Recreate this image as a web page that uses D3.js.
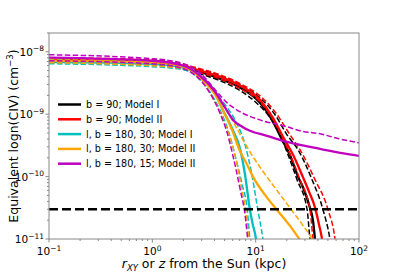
<!DOCTYPE html>
<html><head><meta charset="utf-8">
<script src="https://cdn.jsdelivr.net/npm/d3@7"></script>
<style>body{margin:0;background:#fff;} svg{display:block;} text{font-family:"DejaVu Sans",sans-serif;fill:#000;}</style>
</head><body>
<svg id="c" width="399" height="274"></svg>
<script>
// ---- data (r in kpc, equivalent n(CIV) in cm^-3) ----
const xTicks = [0.1, 1, 10, 100];
const xTickExp = ["−1", "0", "1", "2"];
const yTicks = [1e-11, 1e-10, 1e-9, 1e-8];
const yTickExp = ["−11", "−10", "−9", "−8"];
const threshold = 3e-11;
const legendLabels = ["b = 90; Model I", "b = 90; Model II", "l, b = 180, 30; Model I", "l, b = 180, 30; Model II", "l, b = 180, 15; Model II"];

const b90I = [[0.1,7.2e-9],[1,6.7e-9],[2,5.8e-9],[2.9,4.8e-9],[4.5,3.7e-9],[7.1,2.65e-9],[11,1.52e-9],[14.4,8.1e-10],[17.6,4.2e-10],[21.5,2.2e-10],[25.7,1.0e-10],[29.4,6.1e-11],[32.9,3.5e-11],[36,1.9e-11],[37.6,9.6e-12],[38.5,7e-12]];
const b90I_lo = [[0.1,6.7e-9],[1,6.2e-9],[2.9,4.45e-9],[4.5,3.44e-9],[7.1,2.38e-9],[9.9,1.58e-9],[13.8,8.75e-10],[17.2,4.67e-10],[19.7,2.69e-10],[25.2,8.85e-11],[31.5,2.92e-11],[33.6,9.6e-12],[34.5,7e-12]];
const b90I_hi = [[0.1,7.75e-9],[1,7.2e-9],[2.9,5.16e-9],[4.5,4.13e-9],[7.1,2.96e-9],[11,1.83e-9],[15.4,9.8e-10],[20.1,4.67e-10],[25.7,2.69e-10],[35.2,8.85e-11],[44.9,2.92e-11],[52.5,9.6e-12],[54,7e-12]];

const b90II = [[0.1,7.5e-9],[1,6.9e-9],[2,6.0e-9],[2.9,5.0e-9],[4.5,4.0e-9],[7.1,2.86e-9],[11,1.7e-9],[14.7,8.75e-10],[18.4,4.34e-10],[23,2.23e-10],[28.1,1.06e-10],[32.9,5.7e-11],[37.6,3.15e-11],[41.1,1.68e-11],[44,9.6e-12],[45,7e-12]];
const b90II_lo = [[0.1,6.9e-9],[1,6.4e-9],[2.9,4.6e-9],[4.5,3.7e-9],[7.1,2.56e-9],[11,1.58e-9],[14.4,8.75e-10],[18,4.34e-10],[20.6,2.69e-10],[26.9,8.85e-11],[33.6,2.92e-11],[36,9.6e-12],[37,7e-12]];
const b90II_hi = [[0.1,8.0e-9],[1,7.46e-9],[2.9,5.36e-9],[4.5,4.29e-9],[7.1,3.08e-9],[11,1.97e-9],[15.4,1.09e-9],[21.5,4.67e-10],[26.9,2.69e-10],[37.6,8.85e-11],[50.2,2.92e-11],[58.7,9.6e-12],[60,7e-12]];

const l180b30I = [[0.1,6.9e-9],[1,6.4e-9],[2,5.56e-9],[2.9,3.98e-9],[3.9,2.47e-9],[4.8,1.18e-9],[6.0,5.6e-10],[7.1,2.69e-10],[7.9,1.06e-10],[8.8,2.92e-11],[9.4,1.68e-11],[10.1,9.6e-12],[10.3,7e-12]];
const l180b30I_lo = [[0.1,6.44e-9],[1,5.77e-9],[2,5.16e-9],[2.9,3.56e-9],[3.6,2.29e-9],[4.5,1.18e-9],[5.4,5.6e-10],[6.3,2.23e-10],[7.4,7.4e-11],[8.3,2.92e-11],[8.8,9.6e-12],[9.0,7e-12]];
const l180b30I_hi = [[0.1,7.46e-9],[1,6.93e-9],[2,5.98e-9],[2.9,4.29e-9],[4.05,2.29e-9],[5.06,1.42e-9],[6.3,8.1e-10],[7.9,3.23e-10],[9.2,1.06e-10],[10.5,2.92e-11],[11.8,9.6e-12],[12.1,7e-12]];

const l180b30II = [[0.1,7.2e-9],[1,6.68e-9],[2,5.77e-9],[2.9,3.84e-9],[4.05,2.05e-9],[5.06,9.8e-10],[5.9,5.6e-10],[7.1,2.49e-10],[8.3,1.54e-10],[9.4,1.0e-10],[12.3,5.1e-11],[16.1,2.92e-11],[21.5,1.62e-11],[26.9,9.6e-12],[29,8e-12]];
const l180b30II_lo = [[0.1,6.68e-9],[1,5.98e-9],[2,5.36e-9],[2.9,3.7e-9],[3.6,2.2e-9],[4.5,1.09e-9],[5.4,5.2e-10],[6.3,2.23e-10],[7.2,7.4e-11],[8.1,2.43e-11],[8.6,9.6e-12],[8.8,7e-12]];
const l180b30II_hi = [[0.1,7.75e-9],[1,7.2e-9],[2,5.98e-9],[2.9,4.13e-9],[4.05,2.29e-9],[5.06,1.27e-9],[6.3,6.76e-10],[7.55,3.88e-10],[8.8,2.49e-10],[11.5,1.28e-10],[15.4,6.6e-11],[21.5,3.15e-11],[28.1,1.73e-11],[36,9.6e-12],[38.5,8e-12]];

const l180b15II = [[0.1,8.04e-9],[1,7.19e-9],[2,5.98e-9],[2.9,4.13e-9],[4.05,2.29e-9],[5.06,1.27e-9],[6.04,8.1e-10],[7.4,6.28e-10],[8.8,5.42e-10],[12.9,4.5e-10],[18.4,3.74e-10],[26.9,3.23e-10],[42,2.79e-10],[65.6,2.4e-10],[100,2.15e-10]];
const l180b15II_lo = [[0.1,7.19e-9],[1,6.44e-9],[2,5.36e-9],[2.9,3.56e-9],[3.6,2.2e-9],[4.5,1.05e-9],[5.3,5.03e-10],[6.0,2.23e-10],[7.1,6.12e-11],[7.9,2.43e-11],[8.4,9.6e-12],[8.6,7e-12]];
const l180b15II_hi = [[0.1,8.97e-9],[1,7.75e-9],[2,6.44e-9],[2.9,4.62e-9],[4.05,2.47e-9],[5.3,1.52e-9],[7.1,1.09e-9],[11,8.1e-10],[20.1,6.28e-10],[26.9,5.42e-10],[42,4.84e-10],[65.6,4.0e-10],[100,3.48e-10]];

// ---- layout ----
const W = 399, H = 274;
const L = 49, R = 359, T = 33, B = 239;
const svg = d3.select("#c");
const x = d3.scaleLog().domain([0.1, 100]).range([L, R]);
const y = d3.scaleLog().domain([1e-11, 2e-8]).range([B, T]);

const colors = ["#000000", "#ff0000", "#00bfbf", "#ffa500", "#bf00bf"];
const groups = [
  [b90I, b90I_lo, b90I_hi],
  [b90II, b90II_lo, b90II_hi],
  [l180b30I, l180b30I_lo, l180b30I_hi],
  [l180b30II, l180b30II_lo, l180b30II_hi],
  [l180b15II, l180b15II_lo, l180b15II_hi]
];

svg.append("defs").append("clipPath").attr("id", "clip")
  .append("rect").attr("x", L).attr("y", T).attr("width", R - L).attr("height", B - T);

const plot = svg.append("g").attr("clip-path", "url(#clip)");
const line = d3.line().x(d => x(d[0])).y(d => y(d[1])).curve(d3.curveMonotoneX);

groups.forEach((g, i) => {
  plot.append("path").datum(g[0]).attr("d", line)
    .attr("fill", "none").attr("stroke", colors[i]).attr("stroke-width", 2.3);
  [g[1], g[2]].forEach(s => {
    plot.append("path").datum(s).attr("d", line)
      .attr("fill", "none").attr("stroke", colors[i]).attr("stroke-width", 1.5)
      .attr("stroke-dasharray", "5.5,2.4");
  });
});

// threshold line
plot.append("line").attr("x1", L).attr("x2", R)
  .attr("y1", y(threshold)).attr("y2", y(threshold))
  .attr("stroke", "#000").attr("stroke-width", 2.5).attr("stroke-dasharray", "9,4");

// frame
svg.append("rect").attr("x", L).attr("y", T).attr("width", R - L).attr("height", B - T)
  .attr("fill", "none").attr("stroke", "#888").attr("stroke-width", 1);

// ticks
const axis = svg.append("g").attr("stroke", "#888");
const xMinor = [], yMinor = [];
for (let e = -1; e < 2; e++) for (let k = 2; k <= 9; k++) xMinor.push(k * Math.pow(10, e));
for (let e = -11; e < -7; e++) for (let k = 2; k <= 9; k++) { const v = k * Math.pow(10, e); if (v <= 2e-8) yMinor.push(v); }
xTicks.forEach(t => axis.append("line").attr("x1", x(t)).attr("x2", x(t)).attr("y1", B).attr("y2", B + 3.5));
xMinor.forEach(t => axis.append("line").attr("x1", x(t)).attr("x2", x(t)).attr("y1", B).attr("y2", B + 2));
yTicks.forEach(t => axis.append("line").attr("y1", y(t)).attr("y2", y(t)).attr("x1", L).attr("x2", L - 3.5));
yMinor.forEach(t => axis.append("line").attr("y1", y(t)).attr("y2", y(t)).attr("x1", L).attr("x2", L - 2));

// tick labels
xTicks.forEach((t, i) => {
  const tx = svg.append("text").attr("x", x(t)).attr("y", B + 16).attr("text-anchor", "middle").attr("font-size", 10.5);
  tx.append("tspan").text("10");
  tx.append("tspan").attr("dy", -4.5).attr("font-size", 7.5).text(xTickExp[i]);
});
yTicks.forEach((t, i) => {
  const tx = svg.append("text").attr("x", L - 5).attr("y", y(t) + 4).attr("text-anchor", "end").attr("font-size", 10.5);
  tx.append("tspan").text("10");
  tx.append("tspan").attr("dy", -4.5).attr("font-size", 7.5).text(yTickExp[i]);
});

// axis labels
const xl = svg.append("text").attr("x", (L + R) / 2).attr("y", 268).attr("text-anchor", "middle").attr("font-size", 12.5);
xl.append("tspan").attr("font-style", "italic").text("r");
xl.append("tspan").attr("font-style", "italic").attr("font-size", 8.5).attr("dy", 3).text("XY");
xl.append("tspan").attr("dy", -3).text(" or ");
xl.append("tspan").attr("font-style", "italic").text("z");
xl.append("tspan").text(" from the Sun (kpc)");

const yl = svg.append("text").attr("transform", `translate(18,${(T + B) / 2}) rotate(-90)`)
  .attr("text-anchor", "middle").attr("font-size", 12.5);
yl.append("tspan").text("Equivalent logn(CIV) (cm");
yl.append("tspan").attr("dy", -5).attr("font-size", 8.5).text("−3");
yl.append("tspan").attr("dy", 5).text(")");

// legend
const leg = svg.append("g");
legendLabels.forEach((lab, i) => {
  const yy = 104.5 + i * 14.8;
  leg.append("line").attr("x1", 58).attr("x2", 81).attr("y1", yy).attr("y2", yy)
    .attr("stroke", colors[i]).attr("stroke-width", 2.5);
  leg.append("text").attr("x", 86).attr("y", yy + 3.5).attr("font-size", 9.6).text(lab);
});
</script>
</body></html>
